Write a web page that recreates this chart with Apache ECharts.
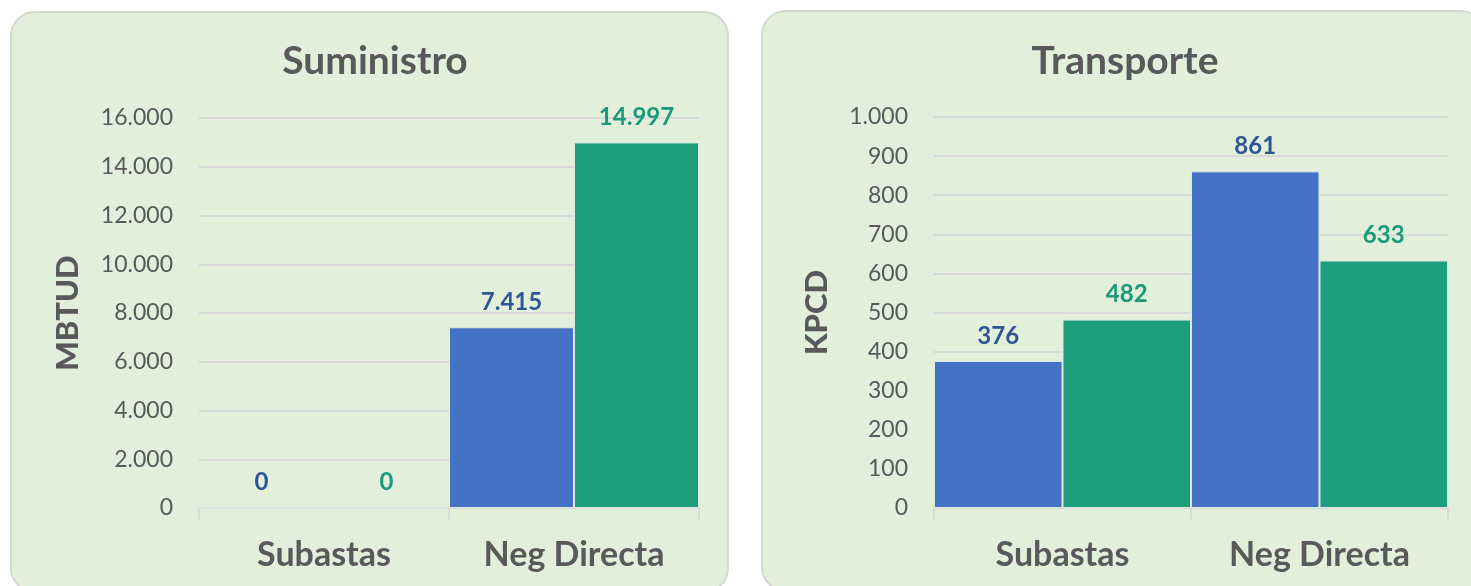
<!DOCTYPE html>
<html>
<head>
<meta charset="utf-8">
<script src="https://cdn.jsdelivr.net/npm/echarts@6/dist/echarts.min.js"></script>
<style>
  html, body { margin: 0; padding: 0; background: #fff; }
  #chart { width: 1471px; height: 586px; }
</style>
</head>
<body>
<div id="chart"></div>
<script>
const categories = ['Subastas', 'Neg Directa'];

// Suministro (MBTUD)
const sumBlue = [0, 7415];
const sumGreen = [0, 14997];

// Transporte (KPCD)
const traBlue = [376, 861];
const traGreen = [482, 633];

const FONT = 'Lato';
const GREY = '#595959';
const BLUE = '#4472C4';
const GREEN = '#1C9E7D';
const BLUE_LBL = '#2F5597';
const GREEN_LBL = '#1A9A78';

const fmt = v => String(v).replace(/\B(?=(\d{3})+(?!\d))/g, '.');

const chart = echarts.init(document.getElementById('chart'));

function xAxis(idx) {
  return {
    type: 'category',
    gridIndex: idx,
    data: categories,
    axisLine: { lineStyle: { color: '#d9d9d9', width: 2 } },
    axisTick: { show: true, length: 12, lineStyle: { color: '#d9d9d9', width: 2 } },
    axisLabel: { color: GREY, fontFamily: FONT, fontWeight: 'bold', fontSize: 34, margin: 30 }
  };
}

function yAxis(idx, max, interval, name, nameGap) {
  return {
    type: 'value',
    gridIndex: idx,
    min: 0,
    max: max,
    interval: interval,
    name: name,
    nameLocation: 'middle',
    nameRotate: 90,
    nameGap: nameGap,
    nameTextStyle: { color: GREY, fontFamily: FONT, fontWeight: 900, fontSize: 31 },
    axisLine: { show: false },
    axisTick: { show: false },
    splitLine: { lineStyle: { color: '#d9d9d9', width: 2 } },
    axisLabel: { color: GREY, fontFamily: FONT, fontSize: 23, margin: 26, formatter: fmt }
  };
}

function bars(idx, data, color, lblColor) {
  return {
    type: 'bar',
    xAxisIndex: idx,
    yAxisIndex: idx,
    data: data,
    barGap: '0%',
    barCategoryGap: '0%',
    itemStyle: { color: color, borderColor: '#dfe9dc', borderWidth: 1 },
    label: {
      show: true,
      position: 'top',
      distance: 13,
      color: lblColor,
      fontFamily: FONT,
      fontWeight: 'bold',
      fontSize: 24,
      formatter: p => fmt(p.value)
    }
  };
}

chart.setOption({
  animation: false,
  graphic: [
    {
      type: 'rect', z: -10,
      shape: { x: 11, y: 12, width: 717, height: 580, r: 24 },
      style: { fill: '#e2efda', stroke: '#d4d8d2', lineWidth: 2 }
    },
    {
      type: 'rect', z: -10,
      shape: { x: 762, y: 11, width: 722, height: 580, r: 24 },
      style: { fill: '#e2efda', stroke: '#d4d8d2', lineWidth: 2 }
    }
  ],
  title: [
    {
      text: 'Suministro', left: 370, top: 37, textAlign: 'center',
      textStyle: { color: GREY, fontFamily: FONT, fontWeight: 'bold', fontSize: 39 }
    },
    {
      text: 'Transporte', left: 1120, top: 37, textAlign: 'center',
      textStyle: { color: GREY, fontFamily: FONT, fontWeight: 'bold', fontSize: 39 }
    }
  ],
  grid: [
    { left: 199, right: 772, top: 118, bottom: 78 },
    { left: 934, right: 23, top: 117, bottom: 78 }
  ],
  xAxis: [xAxis(0), xAxis(1)],
  yAxis: [
    yAxis(0, 16000, 2000, 'MBTUD', 116),
    yAxis(1, 1000, 100, 'KPCD', 102)
  ],
  series: [
    bars(0, sumBlue, BLUE, BLUE_LBL),
    bars(0, sumGreen, GREEN, GREEN_LBL),
    bars(1, traBlue, BLUE, BLUE_LBL),
    bars(1, traGreen, GREEN, GREEN_LBL)
  ]
});
</script>
</body>
</html>
